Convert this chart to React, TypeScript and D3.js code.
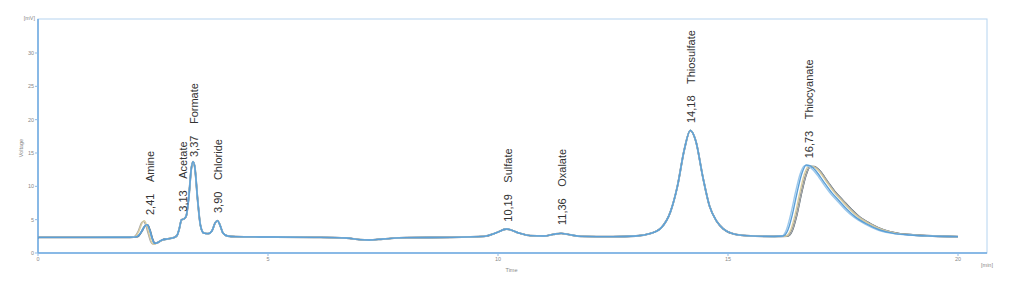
import React from "react";
import * as d3 from "d3";

// ---------- data (time [min], voltage [mV]) ----------
const baseStart: [number, number][] = [
  [0, 2.35], [1.0, 2.35], [2.0, 2.36],
];

const amineBlue: [number, number][] = [
  [2.15, 2.45], [2.25, 3.2], [2.32, 4.05], [2.37, 4.25], [2.42, 3.6],
  [2.48, 2.2], [2.53, 1.45], [2.58, 1.5], [2.68, 1.9],
];
const amineDark: [number, number][] = [
  [2.16, 2.45], [2.26, 3.3], [2.33, 4.1], [2.38, 4.2], [2.43, 3.5],
  [2.49, 2.1], [2.54, 1.45], [2.6, 1.55], [2.7, 1.95],
];
const amineTan: [number, number][] = [
  [2.12, 2.5], [2.2, 3.4], [2.27, 4.6], [2.31, 4.85], [2.36, 4.2],
  [2.42, 2.7], [2.47, 1.6], [2.52, 1.3], [2.6, 1.55], [2.7, 1.9],
];
const amineGray: [number, number][] = [
  [2.1, 2.5], [2.18, 3.3], [2.25, 4.5], [2.29, 4.75], [2.34, 4.2],
  [2.4, 2.8], [2.45, 1.7], [2.5, 1.35], [2.58, 1.5], [2.7, 1.9],
];

const middle: [number, number][] = [
  [2.8, 2.1], [2.95, 2.3], [3.02, 2.6], [3.07, 3.6], [3.12, 5.0], [3.17, 5.1],
  [3.22, 5.5], [3.28, 8.5], [3.33, 12.5], [3.37, 13.7], [3.41, 12.8],
  [3.47, 8.0], [3.53, 4.2], [3.6, 3.0], [3.7, 2.9], [3.78, 3.3], [3.85, 4.5],
  [3.9, 4.85], [3.95, 4.3], [4.02, 3.0], [4.12, 2.55], [4.3, 2.45],
  [5.0, 2.4], [6.0, 2.35], [6.7, 2.25], [7.0, 2.0], [7.2, 1.95], [7.5, 2.1],
  [8.0, 2.3], [9.0, 2.35], [9.7, 2.5], [9.95, 3.0], [10.19, 3.6], [10.45, 3.0],
  [10.7, 2.6], [11.0, 2.55], [11.2, 2.8], [11.37, 2.95], [11.55, 2.75],
  [11.8, 2.5], [12.5, 2.45], [13.0, 2.55], [13.3, 2.9], [13.55, 3.8],
  [13.75, 6.2], [13.9, 10.0], [14.05, 15.5], [14.18, 18.4], [14.3, 16.8],
  [14.45, 11.5], [14.6, 7.0], [14.75, 4.8], [14.9, 3.6], [15.1, 2.9],
  [15.4, 2.6], [16.0, 2.48],
];

const thioBlue: [number, number][] = [
  [16.2, 2.55], [16.3, 3.4], [16.4, 5.8], [16.5, 9.0], [16.6, 11.8],
  [16.7, 13.2], [16.78, 13.1], [16.9, 12.4], [17.0, 11.5], [17.11, 10.4],
  [17.25, 9.1], [17.4, 7.95], [17.58, 6.6], [17.76, 5.45], [18.0, 4.4],
  [18.3, 3.45], [18.6, 2.95], [18.96, 2.7], [19.4, 2.55], [20.0, 2.45],
];
const thioLight: [number, number][] = [
  [16.17, 2.55], [16.27, 3.5], [16.37, 6.0], [16.47, 9.2], [16.57, 11.9],
  [16.67, 13.1], [16.75, 13.0], [16.87, 12.3], [16.97, 11.4], [17.08, 10.3],
  [17.22, 9.0], [17.37, 7.85], [17.55, 6.5], [17.73, 5.4], [17.97, 4.35],
  [18.27, 3.4], [18.57, 2.95], [18.93, 2.7], [19.4, 2.55], [20.0, 2.45],
];
const thioTan: [number, number][] = [
  [16.26, 2.55], [16.36, 3.4], [16.46, 5.8], [16.56, 9.0], [16.66, 11.8],
  [16.76, 13.05], [16.84, 13.0], [16.96, 12.4], [17.06, 11.5], [17.17, 10.4],
  [17.31, 9.1], [17.46, 7.95], [17.64, 6.6], [17.82, 5.45], [18.06, 4.4],
  [18.36, 3.45], [18.66, 2.95], [19.02, 2.7], [19.45, 2.55], [20.0, 2.45],
];
const thioGray: [number, number][] = [
  [16.29, 2.55], [16.39, 3.3], [16.49, 5.6], [16.59, 8.8], [16.69, 11.6],
  [16.79, 12.95], [16.87, 12.95], [16.99, 12.35], [17.09, 11.45], [17.2, 10.35],
  [17.34, 9.05], [17.49, 7.95], [17.67, 6.6], [17.85, 5.45], [18.09, 4.4],
  [18.39, 3.45], [18.69, 2.95], [19.05, 2.7], [19.45, 2.55], [20.0, 2.45],
];

const traceNames = ["dark", "gray", "tan", "light", "blue"];
const traceColors = ["#3d5566", "#a8a8a8", "#d9cc9f", "#9cc8ec", "#5b9fd6"];
const traceData: [number, number][][] = [
  [...baseStart, ...amineDark, ...middle, ...thioGray],
  [...baseStart, ...amineGray, ...middle, ...thioGray],
  [...baseStart, ...amineTan, ...middle, ...thioTan],
  [...baseStart, ...amineBlue, ...middle, ...thioLight],
  [...baseStart, ...amineBlue, ...middle, ...thioBlue],
];

const peakNames = ["Amine", "Acetate", "Formate", "Chloride", "Sulfate", "Oxalate", "Thiosulfate", "Thiocyanate"];
const peakTimes = ["2,41", "3,13", "3,37", "3,90", "10,19", "11,36", "14,18", "16,73"];
const peakTimeValues = [2.41, 3.13, 3.37, 3.9, 10.19, 11.36, 14.18, 16.73];
const peakLabelLevels = [5.7, 6.2, 14.4, 6.0, 4.7, 4.2, 19.5, 14.2];

const xTicks = [0, 5, 10, 15, 20];
const yTicks = [0, 5, 10, 15, 20, 25, 30];

// ---------- layout ----------
const W = 1024;
const H = 281;
const left = 38;
const right = 987;
const top = 19;
const bottom = 253;

export default function App() {
  const x = d3.scaleLinear().domain([0, 20]).range([left, 958]);
  const y = d3.scaleLinear().domain([0, 35.1]).range([bottom, top]);
  const line = d3
    .line<[number, number]>()
    .x((d) => x(d[0]))
    .y((d) => y(d[1]))
    .curve(d3.curveMonotoneX);

  const tickFont = "Liberation Sans, Arial, sans-serif";

  return (
    <svg
      width={W}
      height={H}
      style={{ position: "absolute", left: 0, top: 0, background: "#fff" }}
    >
      {/* frame */}
      <rect x={left} y={top} width={right - left} height={bottom - top} fill="none" stroke="#b5d4f0" strokeWidth={1} />
      <line x1={left} x2={left} y1={top} y2={bottom} stroke="#6ea9e0" strokeWidth={1.5} />
      <line x1={left} x2={right} y1={bottom} y2={bottom} stroke="#6ea9e0" strokeWidth={1.5} />

      {/* y ticks */}
      {yTicks.map((t) => (
        <g key={"y" + t}>
          <line x1={left - 3} x2={left} y1={y(t)} y2={y(t)} stroke="#8fbbe6" strokeWidth={1} />
          <text x={left - 4} y={y(t) + 2} fontSize={5.5} fill="#888" textAnchor="end" fontFamily={tickFont}>
            {t}
          </text>
        </g>
      ))}
      <text x={left - 3} y={top + 1} fontSize={5.5} fill="#888" textAnchor="end" fontFamily={tickFont}>
        [mV]
      </text>
      <text
        transform={`translate(23,${(top + bottom) / 2 + 12}) rotate(-90)`}
        fontSize={5.5}
        fill="#888"
        textAnchor="middle"
        fontFamily={tickFont}
      >
        Voltage
      </text>

      {/* x ticks */}
      {xTicks.map((t) => (
        <g key={"x" + t}>
          <line x1={x(t)} x2={x(t)} y1={bottom} y2={bottom + 3} stroke="#8fbbe6" strokeWidth={1} />
          <text x={x(t)} y={bottom + 8} fontSize={5.5} fill="#888" textAnchor="middle" fontFamily={tickFont}>
            {t}
          </text>
        </g>
      ))}
      <text x={(left + right) / 2 - 1} y={272} fontSize={5.5} fill="#888" textAnchor="middle" fontFamily={tickFont}>
        Time
      </text>
      <text x={right} y={267} fontSize={5.5} fill="#888" textAnchor="middle" fontFamily={tickFont}>
        [min]
      </text>

      {/* traces */}
      {traceData.map((d, i) => (
        <path
          key={traceNames[i]}
          d={line(d) || ""}
          fill="none"
          stroke={traceColors[i]}
          strokeWidth={i === 0 ? 1.8 : 1.4}
          strokeLinejoin="round"
        />
      ))}

      {/* peak labels */}
      {peakNames.map((n, i) => (
        <text
          key={n}
          transform={`translate(${x(peakTimeValues[i]) + 5},${y(peakLabelLevels[i])}) rotate(-90)`}
          fontSize={11}
          fill="#333"
          fontFamily={tickFont}
        >
          {peakTimes[i]}
          <tspan dx={11.5}>{n}</tspan>
        </text>
      ))}
    </svg>
  );
}
